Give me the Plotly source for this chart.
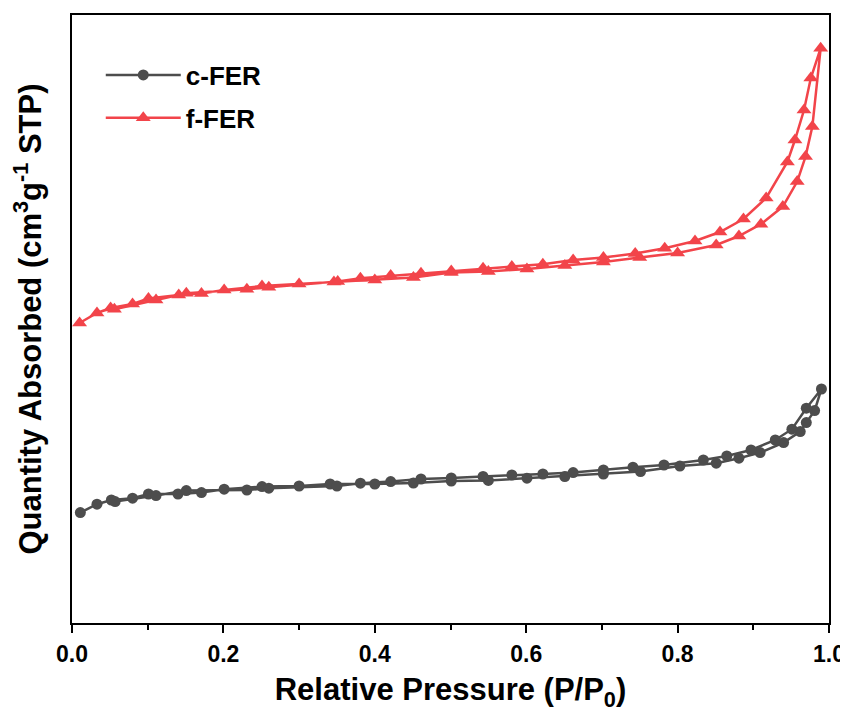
import plotly.graph_objects as go

# Relative pressure (P/P0) and quantity adsorbed (arbitrary units)
c_ads_p = [0.011, 0.033, 0.052, 0.080, 0.101, 0.140, 0.171, 0.201, 0.251, 0.300, 0.341, 0.400,
           0.451, 0.501, 0.550, 0.601, 0.651, 0.702, 0.751, 0.803, 0.851, 0.881, 0.909, 0.940,
           0.962, 0.970, 0.981, 0.990]
c_ads_q = [55.2, 59.4, 61.5, 62.4, 64.5, 64.5, 65.2, 66.9, 68.2, 68.5, 69.5, 69.5,
           70.0, 71.0, 71.3, 72.4, 73.2, 74.5, 75.7, 78.5, 79.9, 82.4, 85.2, 90.2,
           95.7, 100.2, 106.2, 117.0]
c_des_p = [0.970, 0.951, 0.929, 0.897, 0.865, 0.834, 0.782, 0.741, 0.702, 0.662, 0.622, 0.581,
           0.543, 0.501, 0.461, 0.421, 0.381, 0.350, 0.260, 0.231, 0.151, 0.111, 0.057]
c_des_q = [107.4, 96.9, 91.5, 86.5, 83.5, 81.5, 79.0, 77.9, 76.5, 75.2, 74.5, 74.0,
           73.3, 72.5, 72.0, 70.7, 69.9, 68.5, 67.4, 66.5, 66.2, 63.7, 60.7]

f_ads_p = [0.010, 0.033, 0.051, 0.080, 0.101, 0.141, 0.171, 0.201, 0.251, 0.300, 0.346, 0.400,
           0.451, 0.501, 0.550, 0.601, 0.651, 0.702, 0.750, 0.800, 0.851, 0.881, 0.910, 0.939,
           0.958, 0.969, 0.978, 0.989]
f_ads_q = [150.0, 155.0, 157.5, 159.5, 162.3, 164.0, 164.8, 166.5, 168.5, 169.5, 170.5, 171.5,
           172.7, 175.3, 175.8, 177.0, 178.7, 180.5, 182.8, 185.0, 189.0, 193.5, 199.4, 208.2,
           220.7, 233.2, 248.2, 287.4]
f_des_p = [0.976, 0.967, 0.955, 0.945, 0.917, 0.887, 0.856, 0.823, 0.783, 0.744, 0.702, 0.662,
           0.622, 0.581, 0.543, 0.501, 0.461, 0.421, 0.381, 0.351, 0.260, 0.231, 0.151, 0.111, 0.056]
f_des_q = [272.5, 256.5, 241.5, 230.5, 212.5, 202.0, 195.5, 191.0, 187.4, 184.8, 182.7, 181.5,
           179.4, 178.2, 177.4, 176.0, 174.9, 173.7, 172.4, 170.7, 167.9, 166.9, 164.9, 161.5, 156.9]

x_ticks = [0.0, 0.2, 0.4, 0.6, 0.8, 1.0]
x_tick_labels = ["0.0", "0.2", "0.4", "0.6", "0.8", "1.0"]

GRAY = "#4d4d4d"
RED = "#f2444a"
FONT = "Arial, 'Liberation Sans', sans-serif"

fig = go.Figure()
fig.add_trace(go.Scatter(
    x=c_ads_p + c_des_p, y=c_ads_q + c_des_q, name="c-FER", legendgroup="c",
    mode="lines+markers",
    line=dict(color=GRAY, width=2.5),
    marker=dict(symbol="circle", size=11, color=GRAY),
))
fig.add_trace(go.Scatter(
    x=f_ads_p + f_des_p, y=f_ads_q + f_des_q, name="f-FER", legendgroup="f",
    mode="lines+markers",
    line=dict(color=RED, width=2.5),
    marker=dict(symbol="triangle-up", size=13, color=RED),
))

# page body has an 8px default margin, so the figure is sized to fit the window
fig.update_layout(
    width=840, height=704,
    margin=dict(l=64, r=19, t=7, b=89, autoexpand=False),
    paper_bgcolor="white", plot_bgcolor="white",
    font=dict(family=FONT, color="black", size=23, weight="bold"),
    showlegend=True,
    legend=dict(x=0.038, y=0.94, xanchor="left", yanchor="top",
                font=dict(size=26, family=FONT, weight="bold"),
                itemwidth=75, tracegroupgap=6, bgcolor="rgba(0,0,0,0)"),
)
fig.update_xaxes(
    range=[0, 1.0], tickvals=x_ticks, ticktext=x_tick_labels,
    showgrid=False, zeroline=False, automargin=False,
    showline=True, linecolor="black", linewidth=2, mirror=True,
    ticks="outside", ticklen=8, tickwidth=2, tickcolor="black",
    minor=dict(ticks="outside", ticklen=5, tickwidth=2, tickcolor="black", dtick=0.1, showgrid=False),
    tickfont=dict(size=23, family=FONT, weight="bold"),
    ticklabelstandoff=1, ticklabeloverflow="allow",
    title=dict(text="Relative Pressure (P/P<sub>0</sub>)", font=dict(size=31, family=FONT, weight="bold"), standoff=13),
)
fig.update_yaxes(
    range=[0, 304], showticklabels=False, ticks="",
    showgrid=False, zeroline=False, automargin=False,
    showline=True, linecolor="black", linewidth=2, mirror=True,
    title=dict(text="Quantity Absorbed (cm<sup>3</sup>g<sup>-1</sup> STP)", font=dict(size=31, family=FONT, weight="bold"), standoff=22),
)

fig.write_html("out.html")
